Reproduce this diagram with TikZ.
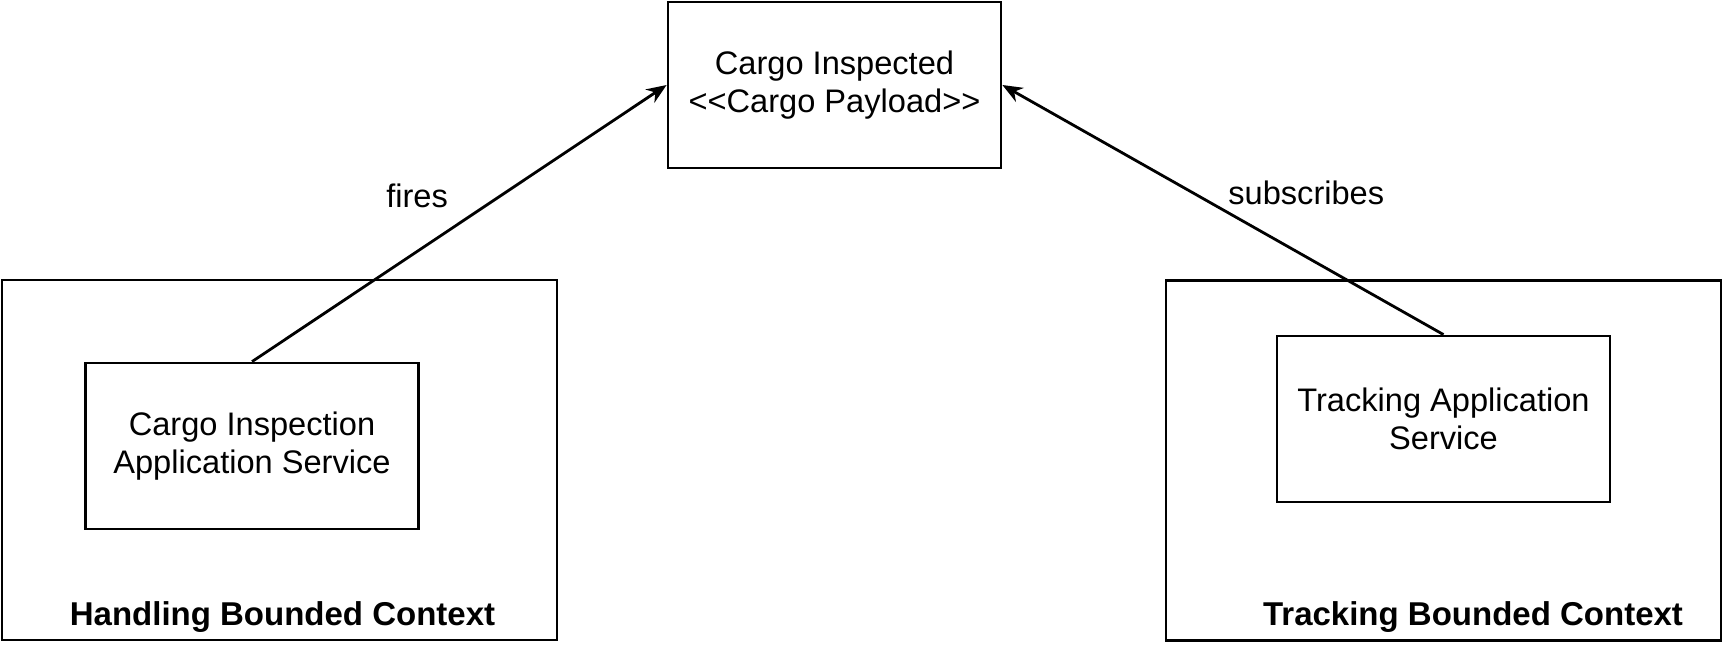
\documentclass[tikz,border=0pt]{standalone}
\usepackage{fontspec}
\setmainfont{Liberation Sans}
\usetikzlibrary{arrows.meta}
\usetikzlibrary{positioning}

\begin{document}
\begin{tikzpicture}[x=0.5pt,y=-0.5pt,line width=1.4pt,
        box/.style={draw,align=center,inner sep=0pt,minimum width=166.5pt,minimum height=83pt,font=\fontsize{16.3}{19.3}\selectfont},
        context/.style={draw,inner sep=0pt,minimum width=277.5pt,minimum height=180pt},
        ctxlabel/.style={anchor=base,inner sep=0pt,font=\fontsize{16.5}{19}\selectfont\bfseries},
        msg/.style={font=\fontsize{16.3}{19}\selectfont,inner sep=2pt}]
        \useasboundingbox (0,0) rectangle (1725,645);

        \node [box] (ev) at (834.5,85) {Cargo Inspected\\<\kern0pt<Cargo Payload>\kern0pt>};

        \node [context] (hbc) at (279.5,460) {};
        \node [box] (cis) at (252,446) {Cargo Inspection\\Application Service};
        \node [ctxlabel] (hbclabel) at (282.5,625) {Handling Bounded Context};

        \node [context] (tbc) at (1443.5,460.5) {};
        \node [box] (tas) at (1443.5,419) {Tracking Application\\Service};
        \node [ctxlabel] (tbclabel) at (1473,625) {Tracking Bounded Context};

        \path [-{Stealth[length=10pt,width=8pt]}] (cis.north) edge node [msg,anchor=south east,xshift=-3pt,yshift=5pt] {fires} (ev.west);
        \path [-{Stealth[length=10pt,width=8pt]}] (tas.north) edge node [msg,anchor=south west] {subscribes} (ev.east);
    \end{tikzpicture}
\end{document}
